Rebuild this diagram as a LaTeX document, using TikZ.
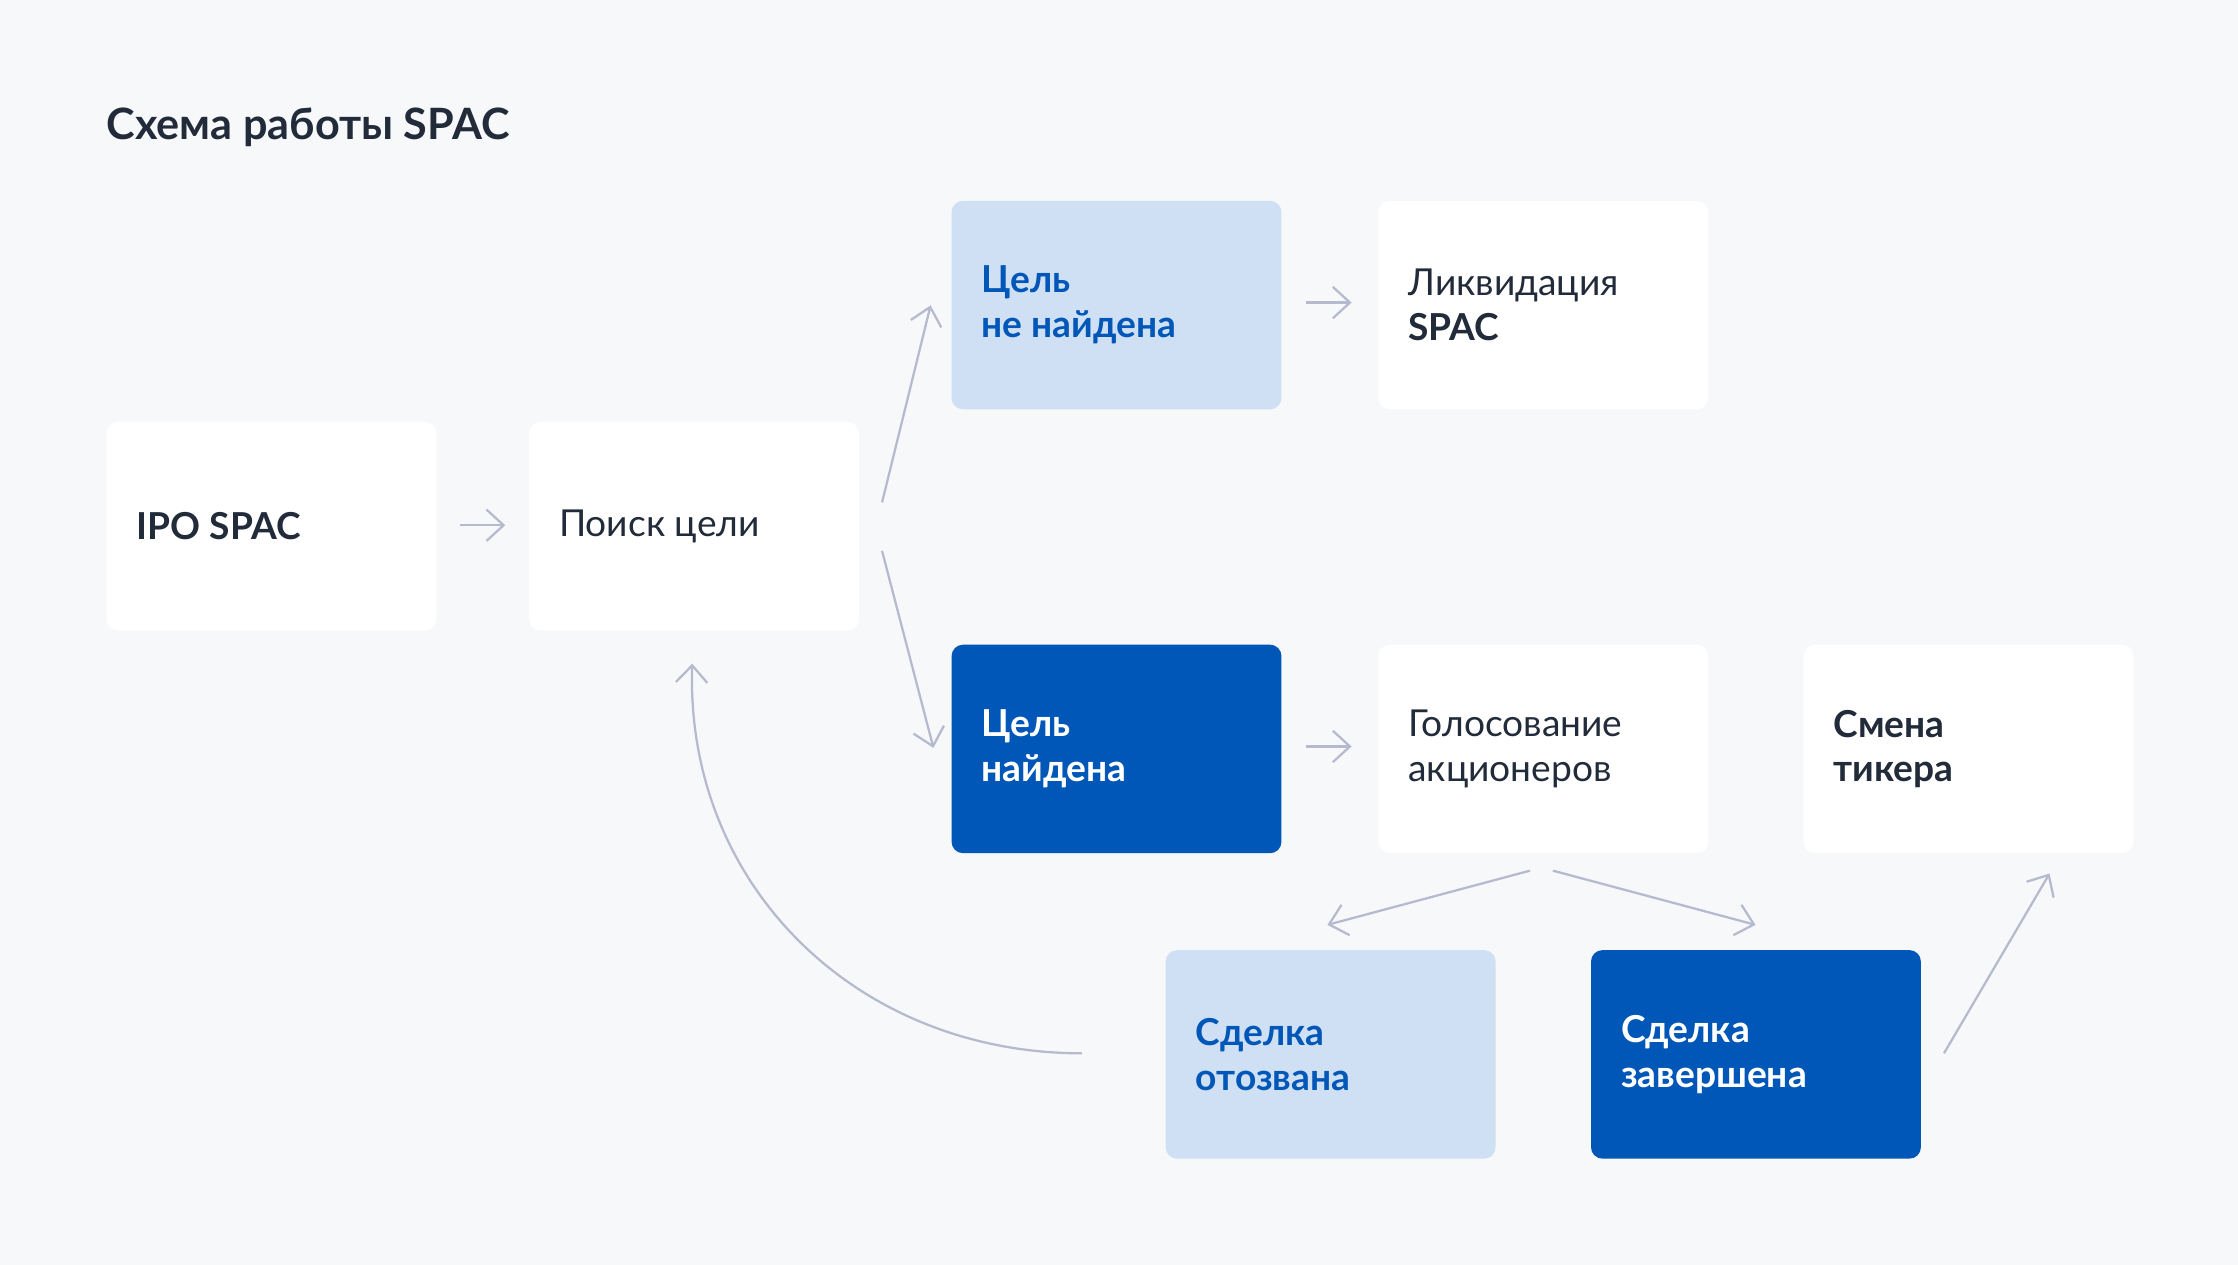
\documentclass[tikz,border=0pt]{standalone}
\usepackage{fontspec}
\setmainfont{Lato}
\usetikzlibrary{arrows.meta}
\definecolor{bg}{HTML}{F7F8FA}
\definecolor{lb}{HTML}{CFDFF4}
\definecolor{db}{HTML}{0057B7}
\definecolor{tx}{HTML}{222B3A}
\definecolor{ar}{HTML}{B6BACE}
\tikzset{
 box/.style={anchor=north west,minimum width=2.31cm,minimum height=1.46cm,rounded corners=0.08cm,inner sep=0pt,draw=none},
 wbox/.style={box,fill=white},
 lbox/.style={box,fill=lb},
 dbox/.style={box,fill=db},
 lbl/.style={anchor=west,align=left,inner sep=0pt,font=\fontsize{7.4}{8.9}\selectfont,text=tx},
 conn/.style={draw=ar,line width=0.45pt,-{Straight Barb[length=1.2mm,width=2.2mm]}},
}
\begin{document}
\begin{tikzpicture}[x=0.01cm,y=-0.01cm]
\fill[bg] (0,0) rectangle (1568,886);
\useasboundingbox (0,0) rectangle (1568,886);
\node[anchor=west,inner sep=0pt,font=\fontsize{8.6}{10}\selectfont\bfseries,text=tx] (title) at (74,89) {Схема работы SPAC};
\node[wbox] (ipo) at (74,295) {};
\node[lbl,font=\fontsize{7.4}{8.9}\selectfont\bfseries] at ([xshift=0.21cm]ipo.west) {IPO SPAC};
\node[wbox] (poisk) at (370,295) {};
\node[lbl] at ([xshift=0.21cm]poisk.west) {Поиск цели};
\node[lbox] (nf) at (666,140) {};
\node[lbl,text=db,font=\fontsize{7.4}{8.9}\selectfont\bfseries] at ([xshift=0.21cm]nf.west) {Цель\\не найдена};
\node[wbox] (liq) at (965,140) {};
\node[lbl] at ([xshift=0.21cm]liq.west) {Ликвидация\\\textbf{SPAC}};
\node[dbox] (f) at (666,451) {};
\node[lbl,text=white,font=\fontsize{7.4}{8.9}\selectfont\bfseries] at ([xshift=0.21cm]f.west) {Цель\\найдена};
\node[wbox] (vote) at (965,451) {};
\node[lbl] at ([xshift=0.21cm]vote.west) {Голосование\\акционеров};
\node[wbox] (tick) at (1263,451) {};
\node[lbl,font=\fontsize{7.4}{8.9}\selectfont\bfseries] at ([xshift=0.21cm]tick.west) {Смена\\тикера};
\node[lbox] (otz) at (816,665) {};
\node[lbl,text=db,font=\fontsize{7.4}{8.9}\selectfont\bfseries] at ([xshift=0.21cm]otz.west) {Сделка\\отозвана};
\node[dbox] (zav) at (1114,665) {};
\node[lbl,text=white,font=\fontsize{7.4}{8.9}\selectfont\bfseries] at ([xshift=0.21cm]zav.west) {Сделка\\завершена};
\coordinate (a1) at (322,368); \coordinate (a2) at (354,368);
\coordinate (b1) at (618,352); \coordinate (b2) at (652,214);
\coordinate (c1) at (618,386); \coordinate (c2) at (654,524);
\coordinate (d1) at (915,212); \coordinate (d2) at (947,212);
\coordinate (e1) at (915,523); \coordinate (e2) at (947,523);
\coordinate (g1) at (1072,610); \coordinate (g2) at (930,648);
\coordinate (h1) at (1088,610); \coordinate (h2) at (1230,648);
\coordinate (i1) at (1362,738); \coordinate (i2) at (1436,612);
\coordinate (j1) at (758,738); \coordinate (j2) at (485,465);
\draw[conn] (a1) -- (a2);
\draw[conn] (b1) -- (b2);
\draw[conn] (c1) -- (c2);
\draw[conn] (d1) -- (d2);
\draw[conn] (e1) -- (e2);
\draw[conn] (g1) -- (g2);
\draw[conn] (h1) -- (h2);
\draw[conn] (i1) -- (i2);
\draw[conn] (j1) .. controls (600,738) and (480,620) .. (j2);
\end{tikzpicture}
\end{document}
